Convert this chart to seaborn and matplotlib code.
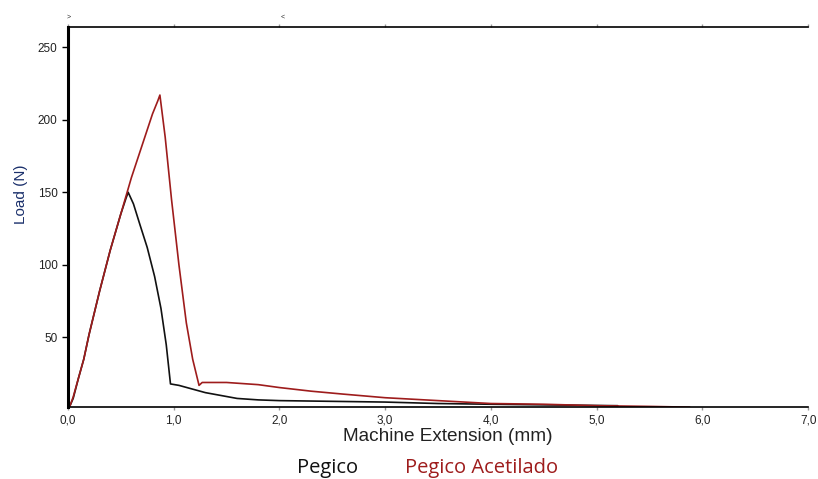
import numpy as np
import pandas as pd
import seaborn as sns
import matplotlib.pyplot as plt

# values
pegico_x = [0.0, 0.02, 0.05, 0.1, 0.15, 0.2, 0.3, 0.4, 0.5, 0.55, 0.57, 0.62, 0.68, 0.75,
            0.82, 0.88, 0.93, 0.97, 1.05, 1.15, 1.3, 1.45, 1.6, 1.8, 2.0, 2.5, 3.0, 3.5,
            4.0, 4.6, 5.2]
pegico_y = [2, 3, 8, 22, 35, 52, 82, 110, 135, 146, 150, 142, 128, 112, 92, 70, 45, 18,
            17, 15, 12, 10, 8, 7, 6.5, 6, 5.5, 4.5, 4, 3.5, 3]

acet_x = [0.0, 0.02, 0.05, 0.1, 0.15, 0.2, 0.3, 0.4, 0.5, 0.6, 0.7, 0.8, 0.85, 0.87,
          0.92, 0.98, 1.05, 1.12, 1.18, 1.24, 1.27, 1.3, 1.5, 1.8, 2.0, 2.3, 2.6, 3.0,
          3.5, 4.0, 4.5, 5.0, 5.5, 5.88]
acet_y = [1, 3, 9, 22, 35, 52, 82, 110, 135, 160, 182, 204, 213, 217, 188, 145, 100,
          60, 35, 17, 19, 19, 19, 17.5, 15.5, 13, 11, 8.5, 6.5, 4.5, 4, 3, 2.5, 2]

names = ["Pegico", "Pegico Acetilado"]
colors = ["#111111", "#9e1c1c"]

df = pd.concat([
    pd.DataFrame({"ext": pegico_x, "load": pegico_y, "sample": names[0]}),
    pd.DataFrame({"ext": acet_x, "load": acet_y, "sample": names[1]}),
])

sns.set_style("white")
plt.rcParams["font.family"] = ["Liberation Sans", "DejaVu Sans"]

fig = plt.figure(figsize=(8.18, 4.79), dpi=100)
ax = fig.add_axes([0.083, 0.150, 0.905, 0.794])

sns.lineplot(data=df, x="ext", y="load", hue="sample", palette=colors,
             sort=False, estimator=None, linewidth=1.2, legend=False, ax=ax)

ax.set_xlim(0, 7.0)
ax.set_ylim(2, 264)
ax.set_xticks(np.arange(0, 7.5, 1.0))
ax.set_xticklabels([f"{v:.1f}".replace(".", ",") for v in np.arange(0, 7.5, 1.0)])
ax.set_yticks([50, 100, 150, 200, 250])
ax.tick_params(axis="both", labelsize=8.5, length=4, width=1, color="black",
               direction="out", bottom=True, left=True, labelcolor="#222222")
ax.tick_params(axis="x", top=True, length=2, color="#999999")

for side in ["left", "bottom", "top"]:
    ax.spines[side].set_visible(True)
    ax.spines[side].set_color("black")
ax.spines["left"].set_linewidth(2.2)
ax.spines["bottom"].set_linewidth(1.2)
ax.spines["top"].set_linewidth(1.2)
ax.spines["right"].set_visible(False)

ax.set_xlabel("Machine Extension (mm)", fontsize=13.7, labelpad=1, color="#222222")
ax.xaxis.label.set_x(0.513)
ax.set_ylabel("Load (N)", fontsize=11, labelpad=7, color="#1a2f6b")
ax.yaxis.label.set_y(0.56)

fig.text(0.084, 0.958, ">", fontsize=5, ha="center", va="bottom")
fig.text(0.345, 0.958, "<", fontsize=5, ha="center", va="bottom")

fig.text(0.363, 0.024, names[0], color=colors[0], fontsize=14.5, ha="left",
         va="center", family=["Open Sans", "DejaVu Sans"])
fig.text(0.495, 0.024, names[1], color=colors[1], fontsize=14.5, ha="left",
         va="center", family=["Open Sans", "DejaVu Sans"])

fig.savefig("out.png", dpi=100)
